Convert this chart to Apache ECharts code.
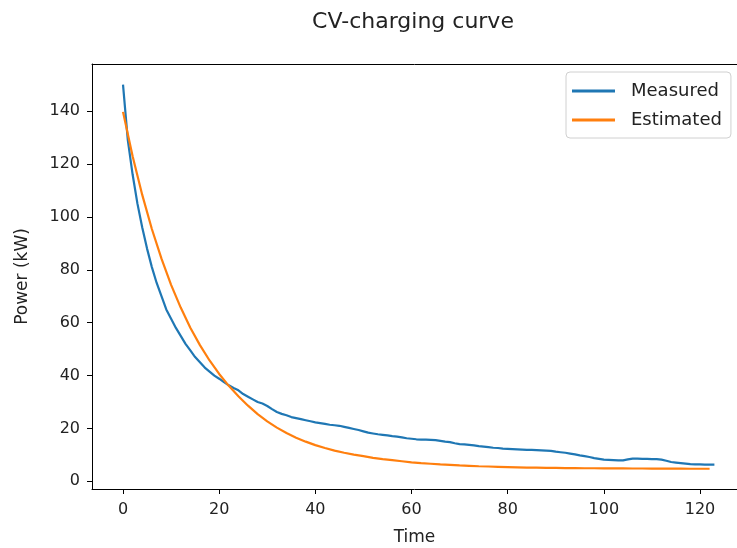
<!DOCTYPE html>
<html>
<head>
<meta charset="utf-8">
<script src="https://cdn.jsdelivr.net/npm/echarts@6/dist/echarts.min.js"></script>
<style>html,body{margin:0;padding:0;background:#fff;}#c{width:737px;height:548px;}</style>
</head>
<body>
<div id="c"></div>
<script>
var measuredTime = [0,1,2,3,4,5,6,7,8,9,10,11,12,13,14,15,16,17,18,19,20,21,22,23,24,25,26,27,28,29,30,31,32,33,34,35,36,37,38,39,40,41,42,43,44,45,46,47,48,49,50,51,52,53,54,55,56,57,58,59,60,61,62,63,64,65,66,67,68,69,70,71,72,73,74,75,76,77,78,79,80,81,82,83,84,85,86,87,88,89,90,91,92,93,94,95,96,97,98,99,100,101,102,103,104,105,106,107,108,109,110,111,112,113,114,115,116,117,118,119,120,121,122,123];
var measuredPower = [150,129,116,105,96,88,81,75,70,65,61.5,58,55,52,49.5,47,45,43,41.5,40,38.8,37.5,36.3,35.3,34.4,33,32,31,30,29.4,28.5,27.3,26.2,25.5,25,24.3,23.9,23.5,23.1,22.7,22.3,22,21.7,21.4,21.2,21,20.6,20.2,19.8,19.4,18.9,18.4,18.1,17.8,17.6,17.4,17.1,16.9,16.6,16.3,16.1,15.9,15.8,15.8,15.7,15.6,15.3,15,14.8,14.4,14.1,14,13.8,13.6,13.3,13.1,12.9,12.7,12.6,12.4,12.3,12.2,12.1,12,11.9,11.9,11.8,11.7,11.6,11.5,11.2,11,10.8,10.5,10.2,9.8,9.5,9.2,8.8,8.5,8.2,8.1,8.0,7.9,7.9,8.3,8.6,8.6,8.5,8.5,8.4,8.4,8.2,7.8,7.3,7.1,6.9,6.7,6.5,6.4,6.4,6.3,6.3,6.3];
var estimatedTime = [0,2,4,6,8,10,12,14,16,18,20,22,24,26,28,30,32,34,36,38,40,42,44,46,48,50,52,54,56,58,60,62,64,66,68,70,72,74,76,78,80,82,84,86,88,90,92,94,96,98,100,102,104,106,108,110,112,114,116,118,120,122];
var estimatedPower = [139.7,122.9,108.3,95.4,84.2,74.3,65.7,58.1,51.5,45.7,40.6,36.1,32.2,28.6,25.4,22.7,20.3,18.3,16.5,15.0,13.7,12.6,11.6,10.8,10.1,9.5,8.9,8.4,8.0,7.6,7.2,6.9,6.65,6.4,6.2,6.0,5.85,5.7,5.6,5.5,5.4,5.3,5.2,5.15,5.1,5.05,5.0,5.0,4.95,4.95,4.9,4.9,4.9,4.85,4.85,4.8,4.8,4.8,4.8,4.75,4.75,4.75];
var xTicks = [0,20,40,60,80,100,120];
var yTicks = [0,20,40,60,80,100,120,140];
var titleText = 'CV-charging curve';
var xName = 'Time';
var yName = 'Power (kW)';
var seriesNames = ['Measured','Estimated'];

function pairs(t, v){ var out=[]; for (var i=0;i<t.length;i++) out.push([t[i], v[i]]); return out; }

var FONT = 'DejaVu Sans';
var TXT = '#222';
var XMIN = -6.45, XMAX = 127.7;
var chart = echarts.init(document.getElementById('c'), null, {renderer:'canvas'});
chart.setOption({
  animation: false,
  backgroundColor: '#fff',
  title: {
    text: titleText, left: 408, top: 6, textAlign: 'center',
    textStyle: {fontFamily: FONT, fontSize: 22, fontWeight: 'normal', color: TXT}
  },
  grid: {left: 92, right: 0, top: 64, bottom: 59, show: false, containLabel: false, outerBoundsMode: 'none'},
  legend: {
    orient: 'vertical', left: 566, top: 72,
    itemWidth: 43, itemHeight: 3, itemGap: 11,
    padding: [10, 9, 9, 6],
    borderColor: '#d0d0d0', borderWidth: 1, borderRadius: 4,
    backgroundColor: 'rgba(255,255,255,0.8)',
    textStyle: {fontFamily: FONT, fontSize: 18, color: TXT, padding: [0,0,0,11]},
    data: [{name: seriesNames[0], icon: 'rect'}, {name: seriesNames[1], icon: 'rect'}]
  },
  xAxis: [{
    type: 'value', min: XMIN, max: XMAX,
    name: xName, nameLocation: 'middle', nameGap: 40,
    nameTextStyle: {fontFamily: FONT, fontSize: 17, color: TXT},
    axisLine: {show: true, onZero: false, lineStyle: {color: '#000', width: 1}},
    axisTick: {show: true, length: 5, lineStyle: {color: '#000'}, customValues: xTicks},
    axisLabel: {fontFamily: FONT, fontSize: 16, color: TXT, margin: 13, customValues: xTicks},
    splitLine: {show: false}
  }, {
    type: 'value', position: 'top', min: XMIN, max: XMAX,
    axisLine: {show: true, onZero: false, lineStyle: {color: '#000', width: 1}},
    axisTick: {show: false}, axisLabel: {show: false}, splitLine: {show: false}
  }],
  yAxis: {
    type: 'value', min: -2.9, max: 157.8,
    name: yName, nameLocation: 'middle', nameGap: 61, nameRotate: 90,
    nameTextStyle: {fontFamily: FONT, fontSize: 17, color: TXT},
    axisLine: {show: true, onZero: false, lineStyle: {color: '#000', width: 1}},
    axisTick: {show: true, length: 5, lineStyle: {color: '#000'}, customValues: yTicks},
    axisLabel: {fontFamily: FONT, fontSize: 16, color: TXT, margin: 12, customValues: yTicks},
    splitLine: {show: false}
  },
  series: [
    {name: seriesNames[0], type: 'line', xAxisIndex: 0, data: pairs(measuredTime, measuredPower), showSymbol: false, symbol: 'none',
     lineStyle: {color: '#1f77b4', width: 2.2}, itemStyle: {color: '#1f77b4'}, z: 3},
    {name: seriesNames[1], type: 'line', xAxisIndex: 0, data: pairs(estimatedTime, estimatedPower), showSymbol: false, symbol: 'none',
     lineStyle: {color: '#ff7f0e', width: 2.2}, itemStyle: {color: '#ff7f0e'}, z: 4}
  ]
});
</script>
</body>
</html>
